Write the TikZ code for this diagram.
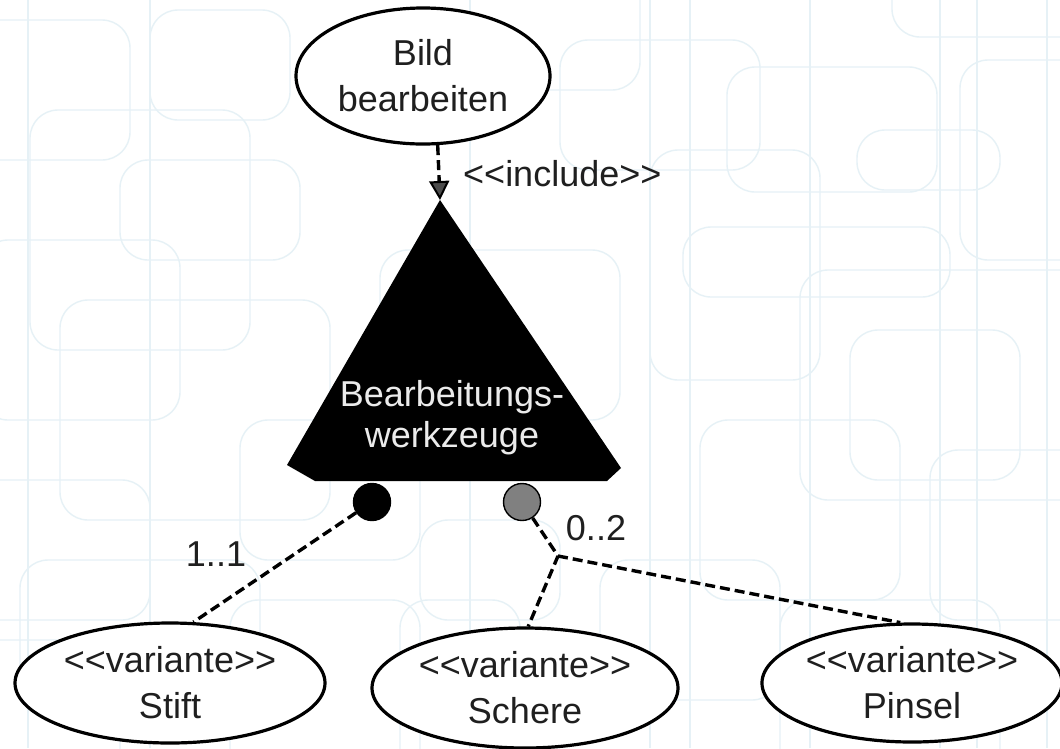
\documentclass[tikz,border=0pt]{standalone}
\usepackage{fontspec}
\setmainfont{Liberation Sans}
\usetikzlibrary{shapes.geometric,arrows.meta}
\definecolor{patternblue}{RGB}{230,241,246}
\definecolor{optgray}{RGB}{128,128,128}
\begin{document}
\begin{tikzpicture}[x=1pt,y=-1pt,
  bgline/.style={draw=patternblue, line width=1.4pt, rounded corners=28pt},
  usecase/.style={ellipse, draw=black, line width=3.2pt, fill=white, inner sep=0pt,
    align=center, text=black!88, font=\fontsize{36}{46}\selectfont},
  lbl/.style={text=black!88, font=\fontsize{36}{42}\selectfont, inner sep=0pt},
  link/.style={draw=black, line width=3.4pt, dash pattern=on 10pt off 5pt},
  includearrow/.style={link, -{Triangle[length=19pt,width=20pt,fill=black!70,line width=2pt]}},
  groupdot/.style={circle, draw=black, line width=1.4pt, minimum size=37pt, inner sep=0pt}
]
\useasboundingbox (0,0) rectangle (1060,748);
\fill[white] (0,0) rectangle (1060,748);

% faint background pattern of rounded frames
\begin{scope}
\clip (0,0) rectangle (1060,748);
\foreach \a/\b/\c/\d in {
  -30/20/130/160, 30/110/250/350, -20/240/180/420, 60/300/330/520,
  120/160/300/260, -40/480/150/620, 20/560/260/700, 230/600/420/780,
  380/250/620/420, 560/40/760/170, 650/150/820/380, 683/227/950/297,
  727/67/937/192, 800/270/1090/500, 857/130/1000/190, 892/-30/1090/37,
  960/60/1100/260, 850/330/1020/480, 700/420/900/600, 930/450/1100/620,
  600/560/780/700, 420/520/560/620, 150/10/290/120, 400/600/520/780,
  780/600/1000/780, 470/-40/640/90, 240/420/420/560, -30/640/120/780}
  \draw[bgline] (\a,\b) rectangle (\c,\d);
\foreach \xv in {28,150,470,650,690,810,940,977,1047}
  \draw[patternblue, line width=1.2pt] (\xv,0) -- (\xv,748);
\end{scope}

% the variation point: black triangle with chamfered base
\coordinate (apex) at (440,200);
\fill[black] (apex) -- (621,468) -- (607,481) -- (315,481) -- (287,465) -- cycle;
\node[lbl, text=white!92!black, align=center, font=\fontsize{36}{41}\selectfont] (tool) at (452,418)
  {Bearbeitungs-\\werkzeuge};

% use cases
\node[usecase, minimum width=254pt, minimum height=136pt] (bild) at (423,76)
  {Bild\\bearbeiten};
\node[usecase, minimum width=310pt, minimum height=120pt] (stift) at (170,683)
  {{<}{<}variante{>}{>}\\Stift};
\node[usecase, minimum width=306pt, minimum height=120pt] (schere) at (525,688)
  {{<}{<}variante{>}{>}\\Schere};
\node[usecase, minimum width=292pt, minimum height=118pt] (pinsel) at (912,683)
  {{<}{<}variante{>}{>}\\Pinsel};

% include relation
\draw[includearrow] (bild.-78) -- (apex);
\node[lbl, anchor=west] (inc) at (463,174) {{<}{<}include{>}{>}};

% variability groups
\node[groupdot, fill=black] (mand) at (372,502) {};
\node[groupdot, fill=optgray] (opt) at (522,502) {};
\coordinate (fork) at (558,556);

\draw[link] (mand) -- (stift.69);
\draw[link] (opt) -- (fork) -- (schere.87);
\draw[link] (fork) -- (pinsel.101);

\node[lbl] (m11) at (216,554) {1..1};
\node[lbl] (m02) at (596,528) {0..2};
\end{tikzpicture}
\end{document}
